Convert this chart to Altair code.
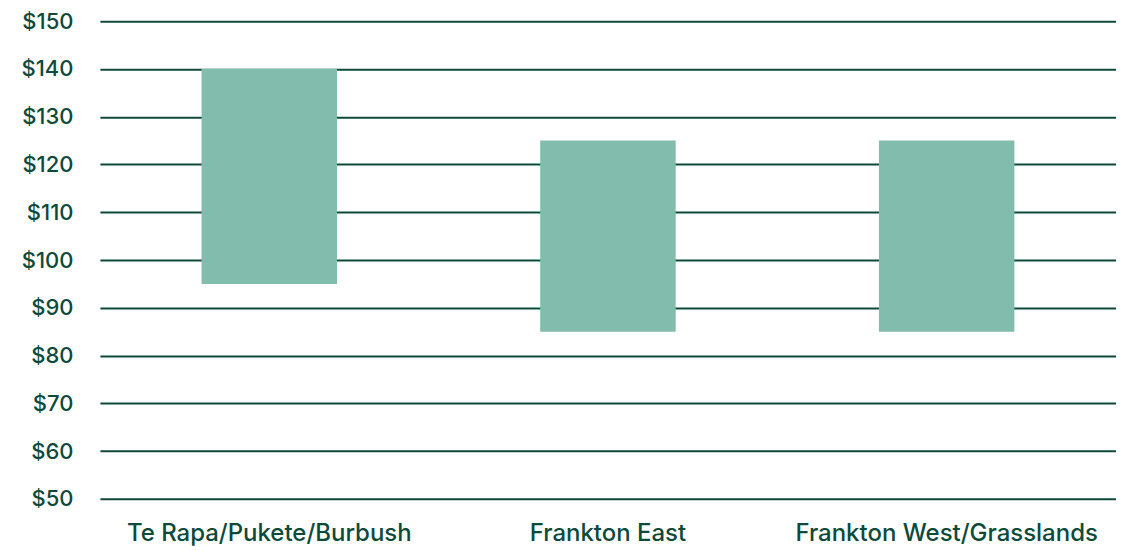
import altair as alt
import pandas as pd

categories = ["Te Rapa/Pukete/Burbush", "Frankton East", "Frankton West/Grasslands"]
low_values = [95, 85, 85]
high_values = [140, 125, 125]
y_ticks = [50, 60, 70, 80, 90, 100, 110, 120, 130, 140, 150]

df = pd.DataFrame({"area": categories, "low": low_values, "high": high_values})

DARK = "#0d4a3a"
BAR = "#82bcad"
FONT = "Inter"

chart = alt.Chart(df).mark_bar(
    color=BAR, width=alt.RelativeBandSize(0.4)
).encode(
    x=alt.X("area:N", sort=categories, title=None,
            scale=alt.Scale(paddingInner=0, paddingOuter=0),
            axis=alt.Axis(labelAngle=0, ticks=False, domain=False,
                          labelFont=FONT, labelFontSize=24, labelColor=DARK,
                          labelPadding=23, labelFontWeight=500, labelLimit=0)),
    y=alt.Y("low:Q", title=None,
            scale=alt.Scale(domain=[50, 150], nice=False, zero=False),
            axis=alt.Axis(values=y_ticks, labelExpr="'$' + datum.value",
                          ticks=False, domain=False, grid=True,
                          gridColor=DARK, gridWidth=2, gridOpacity=1,
                          labelFont=FONT, labelFontSize=22, labelColor=DARK,
                          labelPadding=27, labelFontWeight=500, labelLimit=0)),
    y2="high:Q",
).properties(
    width=1017, height=478,
    autosize=alt.AutoSizeParams(type="none"),
    padding={"left": 92, "top": 13, "right": 0, "bottom": 50},
).configure_view(stroke=None)

chart.save("out.html", embed_options={"renderer": "svg", "actions": False})
